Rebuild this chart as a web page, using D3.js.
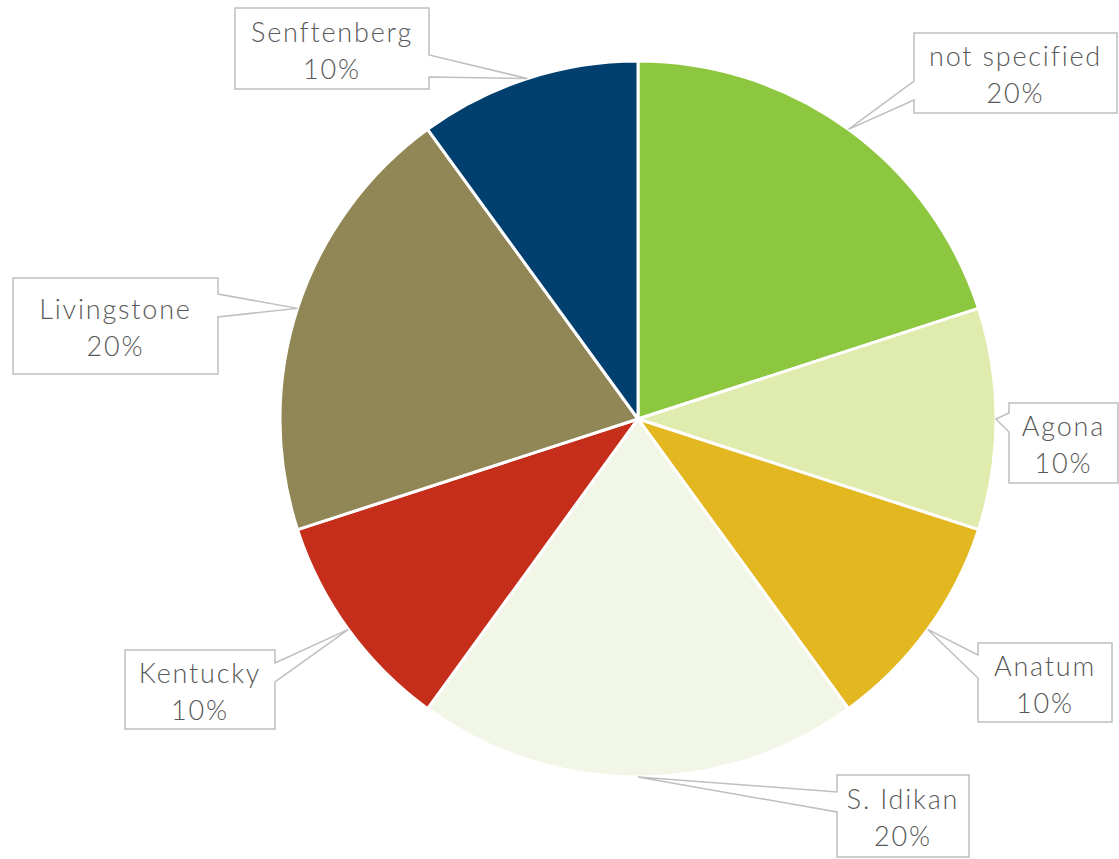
<!DOCTYPE html>
<html>
<head>
<meta charset="utf-8">
<script src="https://cdn.jsdelivr.net/npm/d3@7"></script>
<style>
  html, body { margin: 0; padding: 0; background: #ffffff; }
  svg { display: block; }
</style>
</head>
<body>
<svg id="chart" width="1119" height="859"></svg>
<script>
// Serotype shares, clockwise from 12 o'clock
const categories = ["not specified", "Agona", "Anatum", "S. Idikan", "Kentucky", "Livingstone", "Senftenberg"];
const shares = [20, 10, 10, 20, 10, 20, 10];
const percentLabels = ["20%", "10%", "10%", "20%", "10%", "20%", "10%"];
const colors = ["#8DC63F", "#E0EBAE", "#E3B71F", "#F2F6E6", "#C42E1A", "#918655", "#003F6E"];

// Callout boxes: [x, y, width, height, side of the pointer, pointer base start, pointer base end]
const callouts = [
  [914, 33, 203, 80, "left", 81, 100],
  [1009, 403, 109, 80, "left", 413, 432],
  [978, 643, 134, 79, "left", 655, 678],
  [837, 775, 132, 82, "left", 792, 812],
  [125, 650, 150, 79, "right", 663, 682],
  [13, 278, 205, 96, "right", 294, 317],
  [235, 8, 194, 81, "right", 55, 77]
];

const cx = 638, cy = 419, radius = 358;

const svg = d3.select("#chart");
const g = svg.append("g").attr("transform", `translate(${cx},${cy})`);

const pie = d3.pie().sort(null).value(d => d.value);
const arcs = pie(categories.map((c, i) => ({ name: c, value: shares[i], label: percentLabels[i], color: colors[i] })));
const arc = d3.arc().innerRadius(0).outerRadius(radius);

g.selectAll("path.slice")
  .data(arcs)
  .join("path")
  .attr("class", "slice")
  .attr("d", arc)
  .attr("fill", d => d.data.color)
  .attr("stroke", "#ffffff")
  .attr("stroke-width", 3)
  .attr("stroke-linejoin", "round");

// Pointer tip sits on the rim at the middle angle of each slice
function tipOf(d) {
  const a = (d.startAngle + d.endAngle) / 2;
  return [cx + radius * Math.sin(a), cy - radius * Math.cos(a)];
}

function calloutPath(box, tip) {
  const [x, y, w, h, side, b1, b2] = box;
  const p = d3.path();
  if (side === "left") {
    p.moveTo(x, y);
    p.lineTo(x + w, y);
    p.lineTo(x + w, y + h);
    p.lineTo(x, y + h);
    p.lineTo(x, b2);
    p.lineTo(tip[0], tip[1]);
    p.lineTo(x, b1);
    p.closePath();
  } else {
    p.moveTo(x, y);
    p.lineTo(x + w, y);
    p.lineTo(x + w, b1);
    p.lineTo(tip[0], tip[1]);
    p.lineTo(x + w, b2);
    p.lineTo(x + w, y + h);
    p.lineTo(x, y + h);
    p.closePath();
  }
  return p.toString();
}

const labels = svg.append("g").attr("class", "labels");
arcs.forEach((d, i) => {
  const box = callouts[i];
  const tip = tipOf(d);
  const lg = labels.append("g");
  lg.append("path")
    .attr("d", calloutPath(box, tip))
    .attr("fill", "#ffffff")
    .attr("stroke", "#BFBFBF")
    .attr("stroke-width", 1.5);
  const tx = box[0] + box[2] / 2;
  const mid = box[1] + box[3] / 2;
  const t = lg.append("text")
    .attr("x", tx)
    .attr("text-anchor", "middle")
    .attr("fill", "#595959")
    .style("font-family", "'Century Gothic', 'URW Gothic', Lato, 'DejaVu Sans', sans-serif")
    .style("font-weight", 300)
    .style("letter-spacing", "1.8px")
    .style("font-size", "27px");
  t.append("tspan").attr("x", tx).attr("y", mid - 7).text(d.data.name);
  t.append("tspan").attr("x", tx).attr("y", mid + 30).text(d.data.label);
});
</script>
</body>
</html>
